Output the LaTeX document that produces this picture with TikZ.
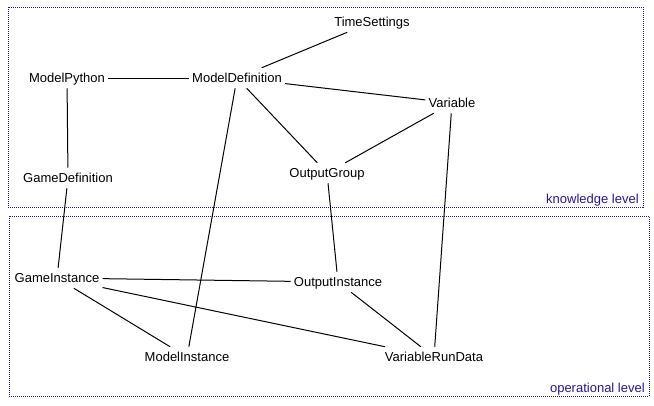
\documentclass[tikz,border=0pt]{standalone}
\usepackage{fontspec}
\setmainfont{Liberation Sans}
\definecolor{lvl}{RGB}{40,20,150}
\begin{document}
\begin{tikzpicture}[x=0.75pt,y=-0.75pt,
  cls/.style={inner xsep=2.25pt,inner ysep=3pt,text height=7.5pt,text depth=1.5pt,font=\fontsize{9.75}{12}\selectfont},
  rel/.style={line width=0.75pt,black},
  lvlbox/.style={draw=lvl,dash pattern=on 0.75pt off 0.75pt,line width=0.75pt},
  lvltext/.style={text=lvl,inner sep=0pt,anchor=base east,font=\fontsize{9.75}{12}\selectfont}]
\useasboundingbox (0,0) rectangle (654,405);
\draw[lvlbox] (8,7) rectangle (643,207);
\draw[lvlbox] (9,216) rectangle (649,396);
\node[lvltext] (kl) at (639,203) {knowledge level};
\node[lvltext] (ol) at (645,392) {operational level};
\node[cls] (ts) at (372,22) {TimeSettings};
\node[cls] (mp) at (67,78) {ModelPython};
\node[cls] (md) at (237,78) {ModelDefinition};
\node[cls] (var) at (452,103) {Variable};
\node[cls] (gd) at (68,178) {GameDefinition};
\node[cls] (og) at (327,173) {OutputGroup};
\node[cls] (gi) at (57,278) {GameInstance};
\node[cls] (oi) at (338,282) {OutputInstance};
\node[cls] (mi) at (187,357) {ModelInstance};
\node[cls] (vrd) at (434,357) {VariableRunData};
\draw[rel] (md) -- (ts);
\draw[rel] (mp) -- (md);
\draw[rel] (md) -- (var);
\draw[rel] (md) -- (og);
\draw[rel] (md) -- (mi);
\draw[rel] (mp) -- (gd);
\draw[rel] (var) -- (og);
\draw[rel] (var) -- (vrd);
\draw[rel] (gd) -- (gi);
\draw[rel] (og) -- (oi);
\draw[rel] (gi) -- (oi);
\draw[rel] (gi) -- (vrd);
\draw[rel] (gi) -- (mi);
\draw[rel] (oi) -- (vrd);
\end{tikzpicture}
\end{document}
